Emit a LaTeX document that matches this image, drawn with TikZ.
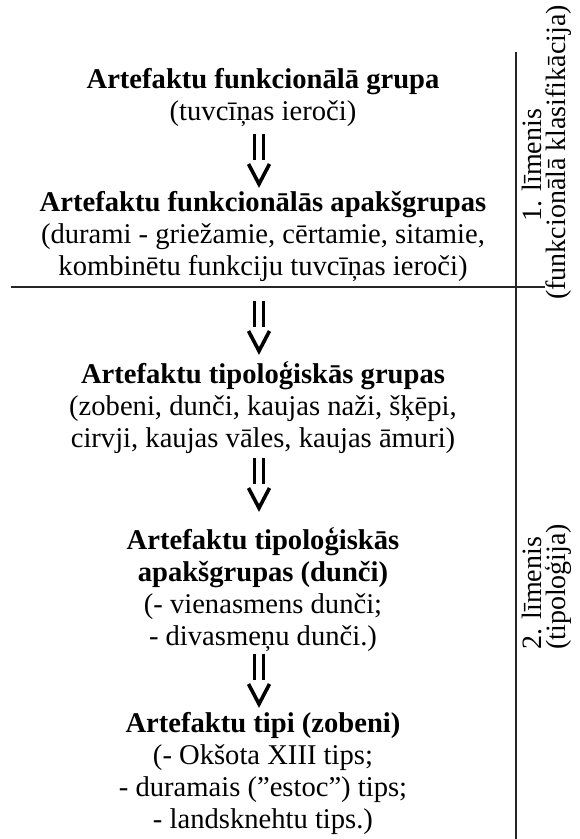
\documentclass[tikz,border=0pt]{standalone}
\usepackage{fontspec}
\setmainfont{Liberation Serif}
\begin{document}
\begin{tikzpicture}[x=1pt,y=-1pt]
\useasboundingbox[fill=white] (0,0) rectangle (579,839);
\tikzset{
  txt/.style={align=center, anchor=base, inner sep=0pt, font=\fontsize{28.6}{31.8}\selectfont},
  side/.style={rotate=90, anchor=base west, inner sep=0pt, font=\fontsize{28}{31}\selectfont},
  bar/.style={line width=3.4pt},
  vee/.style={line width=3.6pt, miter limit=10},
  rule/.style={line width=1.3pt, draw=black!85},
  dbl/.pic={
    \draw[bar] (-4.5,0) -- (-4.5,26) (4.5,0) -- (4.5,26);
    \draw[vee] (-10.5,30) -- (0,50) -- (10.5,30);
  }
}
% anchor=base is the baseline of the last line of each block
\node[txt] (t1) at (263,120) {\textbf{Artefaktu funkcionālā grupa}\\(tuvcīņas ieroči)};
\node[txt] (t2) at (263,275) {\textbf{Artefaktu funkcionālās apakšgrupas}\\(durami - griežamie, cērtamie, sitamie,\\kombinētu funkciju tuvcīņas ieroči)};
\node[txt] (t3) at (263,447) {\textbf{Artefaktu tipoloģiskās grupas}\\(zobeni, dunči, kaujas naži, šķēpi,\\cirvji, kaujas vāles, kaujas āmuri)};
\node[txt] (t4) at (263,645) {\textbf{Artefaktu tipoloģiskās}\\\textbf{apakšgrupas (dunči)}\\(- vienasmens dunči;\\- divasmeņu dunči.)};
\node[txt] (t5) at (263,828) {\textbf{Artefaktu tipi (zobeni)}\\(- Okšota XIII tips;\\- duramais (”estoc”) tips;\\- landsknehtu tips.)};

\pic at (259,134) {dbl};
\pic at (259,301) {dbl};
\pic at (259,458) {dbl};
\pic at (259,654) {dbl};

\coordinate (hl) at (11,287);
\coordinate (hr) at (545,287);
\coordinate (vt) at (516,52);
\coordinate (vb) at (516,839);
\draw[rule] (hl) -- (hr);
\draw[rule] (vt) -- (vb);

\node[side] (s1a) at (541,222) {1. līmenis};
\node[side] (s1b) at (565,300) {(funkcionālā klasifikācija)};
\node[side] (s2a) at (541,650) {2. līmenis};
\node[side] (s2b) at (565,650) {(tipoloģija)};
\end{tikzpicture}
\end{document}
